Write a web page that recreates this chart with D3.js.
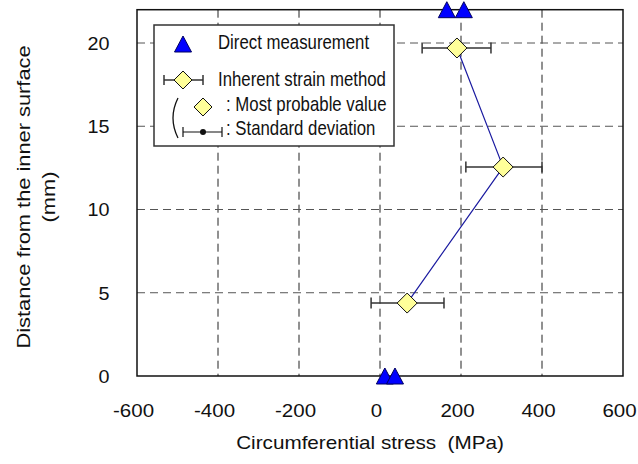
<!DOCTYPE html>
<html>
<head>
<meta charset="utf-8">
<script src="https://cdn.jsdelivr.net/npm/d3@7"></script>
<style>
  body { margin: 0; background: #fff; }
  text { font-family: "Liberation Sans", Arial, sans-serif; fill: #111; }
</style>
</head>
<body>
<div id="chart"></div>
<script>
(function () {

  // Data
  const directStress = [165, 207, 12, 37]
  const directDepth = [22, 22, 0, 0]

  const inherentStress = [67, 304, 190]
  const inherentDepth = [4.38, 12.55, 19.7]
  const stressLow = [-22, 212, 104]
  const stressHigh = [158, 400, 274]

  const xTicks = [-600, -400, -200, 0, 200, 400, 600]
  const yTicks = [0, 5, 10, 15, 20]

  // Margin convention
  const margin = { top: 9.7, right: 15, bottom: 88, left: 137 }
  const width = 638 - margin.left - margin.right
  const height = 464 - margin.top - margin.bottom

  const svg = d3.select("#chart").append("svg")
      .attr("width", 638)
      .attr("height", 464)

  const g = svg.append("g")
      .attr("transform", "translate(" + margin.left + "," + margin.top + ")")

  const x = d3.scaleLinear().domain([-600, 600]).range([0, width])
  const y = d3.scaleLinear().domain([0, 22]).range([height, 0])

  // Dashed grid
  g.selectAll(".vgrid")
    .data(xTicks.slice(1, -1))
    .join("line")
    .attr("x1", d => x(d)).attr("x2", d => x(d))
    .attr("y1", 0).attr("y2", height)
    .attr("stroke", "#222")
    .attr("stroke-width", 1)
    .attr("stroke-dasharray", "8,5")

  g.selectAll(".hgrid")
    .data(yTicks.slice(1))
    .join("line")
    .attr("x1", 0).attr("x2", width)
    .attr("y1", d => y(d)).attr("y2", d => y(d))
    .attr("stroke", "#555")
    .attr("stroke-width", 1)
    .attr("stroke-dasharray", "8,5")

  // Axes (labels only, frame drawn separately)
  const xAxis = g.append("g")
      .attr("transform", "translate(0," + height + ")")
      .call(d3.axisBottom(x).tickValues(xTicks).tickSize(0).tickPadding(28)
        .tickFormat(d => String(d)))
  xAxis.select(".domain").remove()
  xAxis.selectAll("text")
      .attr("font-size", 18)
      .attr("x", -3.5)
      .attr("transform", "scale(1.14,1)")

  const yAxis = g.append("g")
      .call(d3.axisLeft(y).tickValues(yTicks).tickSize(0).tickPadding(25)
        .tickFormat(d => String(d)))
  yAxis.select(".domain").remove()
  yAxis.selectAll("text")
      .attr("font-size", 18)
      .attr("dy", "0.36em")
      .attr("transform", "scale(1.1,1)")

  // Frame
  g.append("rect")
    .attr("width", width).attr("height", height)
    .attr("fill", "none")
    .attr("stroke", "#111")
    .attr("stroke-width", 1.5)

  // Axis titles
  svg.append("text")
    .attr("transform", "translate(370,449) scale(1.15,1)")
    .attr("text-anchor", "middle")
    .attr("font-size", 18)
    .style("white-space", "pre")
    .text("Circumferential stress  (MPa)")

  const yTitle = svg.append("text")
    .attr("transform", "translate(30,197) rotate(-90) scale(1.18,1)")
    .attr("text-anchor", "middle")
    .attr("font-size", 18.5)
  yTitle.append("tspan").attr("x", 0).attr("dy", 0).text("Distance from the inner surface")
  yTitle.append("tspan").attr("x", 0).attr("dy", 25).text("(mm)")

  // Line through inherent strain values
  const line = d3.line()
    .x((d, i) => x(inherentStress[i]))
    .y((d, i) => y(inherentDepth[i]))

  g.append("path")
    .datum(inherentStress)
    .attr("d", line)
    .attr("fill", "none")
    .attr("stroke", "#1a1aa0")
    .attr("stroke-width", 1.2)

  // Error bars
  const bars = g.selectAll(".err")
    .data(inherentStress.map((d, i) => i))
    .join("g")
    .attr("stroke", "#333")
    .attr("stroke-width", 1.5)

  bars.append("line")
    .attr("x1", i => x(stressLow[i])).attr("x2", i => x(stressHigh[i]))
    .attr("y1", i => y(inherentDepth[i])).attr("y2", i => y(inherentDepth[i]))
  bars.append("line")
    .attr("x1", i => x(stressLow[i])).attr("x2", i => x(stressLow[i]))
    .attr("y1", i => y(inherentDepth[i]) - 5.5).attr("y2", i => y(inherentDepth[i]) + 5.5)
  bars.append("line")
    .attr("x1", i => x(stressHigh[i])).attr("x2", i => x(stressHigh[i]))
    .attr("y1", i => y(inherentDepth[i]) - 5.5).attr("y2", i => y(inherentDepth[i]) + 5.5)

  // Diamonds
  const diamond = "M0,-10L10,0L0,10L-10,0Z"
  g.selectAll(".dia")
    .data(inherentStress.map((d, i) => i))
    .join("path")
    .attr("d", diamond)
    .attr("transform", i => "translate(" + x(inherentStress[i]) + "," + y(inherentDepth[i]) + ")")
    .attr("fill", "#ffff99")
    .attr("stroke", "#111")
    .attr("stroke-width", 1)

  // Triangles
  const tri = "M0,-8L8.5,8L-8.5,8Z"
  svg.append("g")
    .attr("transform", "translate(" + margin.left + "," + margin.top + ")")
    .selectAll("path")
    .data(directStress.map((d, i) => i))
    .join("path")
    .attr("d", tri)
    .attr("transform", i => "translate(" + x(directStress[i]) + "," + y(directDepth[i]) + ")")
    .attr("fill", "#0000ff")
    .attr("stroke", "#000060")
    .attr("stroke-width", 1)

  // Legend
  const lg = svg.append("g").attr("transform", "translate(154,25)")
  lg.append("rect")
    .attr("width", 240).attr("height", 121)
    .attr("fill", "#fff")
    .attr("stroke", "#333")
    .attr("stroke-width", 1.5)

  lg.append("path").attr("d", tri)
    .attr("transform", "translate(29,19)")
    .attr("fill", "#0000ff").attr("stroke", "#000060")

  // inherent strain symbol
  lg.append("line").attr("x1", 10).attr("x2", 49).attr("y1", 55).attr("y2", 55)
    .attr("stroke", "#333").attr("stroke-width", 1.5)
  lg.append("line").attr("x1", 10).attr("x2", 10).attr("y1", 50).attr("y2", 60)
    .attr("stroke", "#333").attr("stroke-width", 1.5)
  lg.append("line").attr("x1", 49).attr("x2", 49).attr("y1", 50).attr("y2", 60)
    .attr("stroke", "#333").attr("stroke-width", 1.5)
  lg.append("path").attr("d", "M0,-9L9,0L0,9L-9,0Z")
    .attr("transform", "translate(29,55)")
    .attr("fill", "#ffff99").attr("stroke", "#111")

  lg.append("path").attr("d", "M0,-9L9,0L0,9L-9,0Z")
    .attr("transform", "translate(49,82)")
    .attr("fill", "#ffff99").attr("stroke", "#111")

  // standard deviation symbol
  lg.append("line").attr("x1", 29).attr("x2", 68).attr("y1", 107).attr("y2", 107)
    .attr("stroke", "#111").attr("stroke-width", 1.2)
  lg.append("line").attr("x1", 29).attr("x2", 29).attr("y1", 102).attr("y2", 112)
    .attr("stroke", "#111").attr("stroke-width", 1.2)
  lg.append("line").attr("x1", 68).attr("x2", 68).attr("y1", 102).attr("y2", 112)
    .attr("stroke", "#111").attr("stroke-width", 1.2)
  lg.append("circle").attr("cx", 49).attr("cy", 107).attr("r", 3).attr("fill", "#111")

  // bracket
  lg.append("path").attr("d", "M24,73 Q14,93 24,113")
    .attr("fill", "none").attr("stroke", "#111").attr("stroke-width", 1.3)

  const legendText = [
    { t: "Direct measurement", x: 64, y: 24 },
    { t: "Inherent strain method", x: 64, y: 61 },
    { t: ": Most probable value", x: 72, y: 86 },
    { t: ": Standard deviation", x: 72, y: 110 }
  ]
  lg.selectAll(".lt")
    .data(legendText)
    .join("text")
    .attr("transform", d => "translate(" + d.x + "," + d.y + ") scale(0.84,1)")
    .attr("font-size", 20)
    .text(d => d.t)

})();
</script>
</body>
</html>
